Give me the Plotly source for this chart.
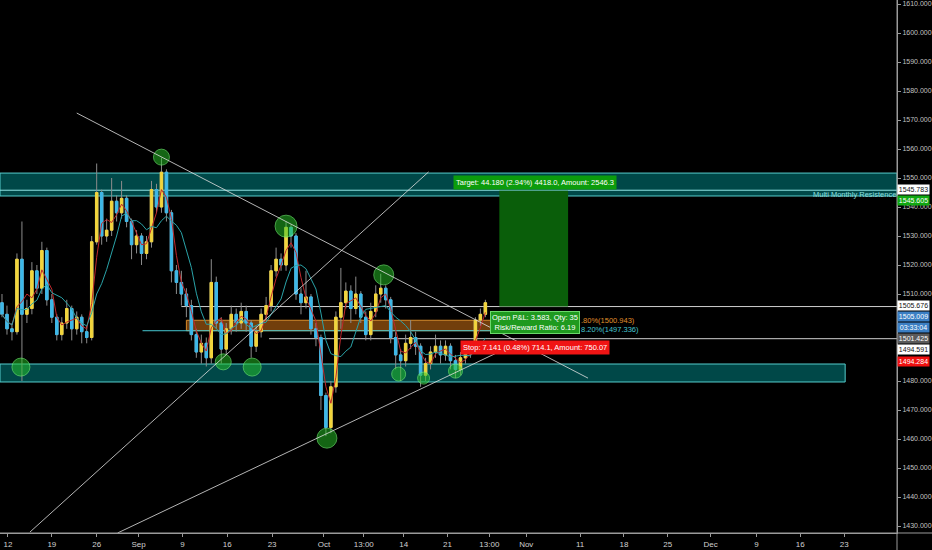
import plotly.graph_objects as go
import pandas as pd

# ---------------- data ----------------
bar_index = list(range(98))
open_ = [1507, 1503, 1498, 1497, 1522, 1503, 1505, 1518, 1512, 1525,
         1508, 1502, 1496, 1500, 1505, 1498, 1502, 1497, 1495, 1528,
         1545, 1530, 1532, 1542, 1538, 1543, 1535, 1527, 1530, 1524,
         1528, 1546, 1540, 1552, 1538, 1518, 1514, 1510, 1506, 1496,
         1490, 1493, 1488, 1514, 1500, 1491, 1498, 1503, 1500, 1504,
         1500, 1492, 1497, 1503, 1506, 1518, 1522, 1520, 1533, 1530,
         1510, 1507, 1509, 1498, 1495, 1475, 1464, 1478, 1502, 1507,
         1511, 1505, 1510, 1502, 1496, 1504, 1510, 1512, 1508, 1495,
         1489, 1487, 1493, 1495, 1492, 1482, 1486, 1490, 1492, 1489,
         1492, 1487, 1484, 1488, 1490, 1491, 1501, 1503]
high = [1510, 1506, 1500, 1524, 1535, 1508, 1521, 1520, 1528, 1526,
        1510, 1503, 1502, 1508, 1506, 1504, 1503, 1499, 1530, 1555,
        1546, 1536, 1550, 1544, 1549, 1544, 1536, 1532, 1531, 1530,
        1549, 1548, 1557, 1553, 1539, 1520, 1518, 1512, 1508, 1498,
        1496, 1495, 1522, 1516, 1502, 1500, 1506, 1505, 1507, 1506,
        1501, 1499, 1505, 1509, 1520, 1526, 1524, 1535, 1534, 1531,
        1512, 1518, 1510, 1500, 1496, 1476, 1480, 1504, 1519, 1514,
        1513, 1516, 1511, 1504, 1507, 1513, 1517, 1513, 1509, 1497,
        1491, 1496, 1501, 1497, 1493, 1488, 1492, 1496, 1494, 1494,
        1493, 1489, 1490, 1492, 1493, 1502, 1505, 1508]
low = [1502, 1496, 1494, 1496, 1480, 1500, 1503, 1510, 1510, 1506,
       1500, 1494, 1494, 1498, 1494, 1496, 1493, 1493, 1494, 1527,
       1527, 1528, 1530, 1535, 1536, 1533, 1522, 1524, 1520, 1522,
       1526, 1538, 1538, 1535, 1514, 1510, 1506, 1502, 1494, 1488,
       1486, 1485, 1486, 1498, 1486, 1489, 1496, 1497, 1498, 1497,
       1488, 1490, 1495, 1501, 1504, 1516, 1518, 1518, 1526, 1508,
       1503, 1505, 1496, 1492, 1470, 1461, 1462, 1476, 1498, 1505,
       1500, 1503, 1500, 1494, 1494, 1502, 1507, 1505, 1493, 1484,
       1480, 1485, 1491, 1489, 1478, 1480, 1484, 1488, 1486, 1487,
       1484, 1481, 1482, 1486, 1488, 1490, 1499, 1502]
close = [1503, 1498, 1497, 1522, 1503, 1505, 1518, 1512, 1525, 1508,
         1502, 1496, 1500, 1505, 1498, 1502, 1497, 1495, 1528, 1545,
         1530, 1532, 1542, 1538, 1543, 1535, 1527, 1530, 1524, 1528,
         1546, 1540, 1552, 1538, 1518, 1514, 1510, 1506, 1496, 1490,
         1493, 1488, 1514, 1500, 1491, 1498, 1503, 1500, 1504, 1500,
         1492, 1497, 1503, 1506, 1518, 1522, 1520, 1533, 1530, 1510,
         1507, 1509, 1498, 1495, 1475, 1464, 1478, 1502, 1507, 1511,
         1505, 1510, 1502, 1496, 1504, 1510, 1512, 1508, 1495, 1489,
         1487, 1493, 1495, 1492, 1482, 1486, 1490, 1492, 1489, 1492,
         1487, 1484, 1488, 1490, 1491, 1501, 1503, 1507]

tick_pos = [1.2, 10, 19, 27.4, 36.2, 45.2, 54.2, 64.6, 72.6, 80.6, 89.4,
            97.8, 105.2, 116, 124.8, 133.6, 142.2, 151.4, 160.2, 169]
tick_text = ["12", "19", "26", "Sep", "9", "16", "23", "Oct", "13:00", "14", "21",
             "13:00", "Nov", "11", "18", "25", "Dec", "9", "16", "23"]
price_ticks = [1430, 1440, 1450, 1460, 1470, 1480, 1510, 1520, 1530, 1540,
               1550, 1560, 1570, 1580, 1590, 1600, 1610]

resistance_zone = [1543.8, 1551.7]
resistance_line = 1545.783
support_zone = [1479.66, 1485.86]
entry_zone = [1497.336, 1500.943]
target_price = 1545.605
last_price_line = 1505.676
low_price_line = 1494.591

# trend lines: (x0, p0, x1, p1)
trend_lines = [
    (15.0, 1572.4, 117.6, 1481.0),
    (5.6, 1427.9, 85.6, 1552.1),
    (23.2, 1427.6, 102.6, 1492.4),
]

# pivot circles
pivot_x = [3.8, 32.0, 44.4, 50.2, 57.0, 65.2, 76.6, 79.6, 84.6, 91.0]
pivot_y = [1484.8, 1557.2, 1486.6, 1484.8, 1533.4, 1460.3, 1516.6, 1482.4, 1481.0, 1483.4]
pivot_size = [18, 16, 16, 18, 22, 20, 20, 14, 12, 14]

# price-scale labels: (text, price position, background, font colour)
axis_labels = [
    ("1545.783", 1546.2, "#ffffff", "#111111"),
    ("1545.605", 1542.4, "#10a810", "#ffffff"),
    ("1505.676", 1506.2, "#ffffff", "#111111"),
    ("1505.009", 1502.1, "#3b7fc4", "#ffffff"),
    ("03:33:04", 1498.3, "#3b7fc4", "#ffffff"),
    ("1501.425", 1494.5, "#5a5a5a", "#ffffff"),
    ("1494.591", 1490.7, "#ffffff", "#111111"),
    ("1494.284", 1486.9, "#f01010", "#ffffff"),
]

# ---------------- figure ----------------
XR = [-0.4, 179.6]
YR = [1427.59, 1611.38]
FONT = "Liberation Sans Narrow, Arial Narrow, Liberation Sans, Arial, sans-serif"

s = pd.Series(close, dtype=float)
ma_fast = s.rolling(3, min_periods=1).mean()
ma_slow = s.rolling(7, min_periods=1).mean()
body_hi = [max(o, c) for o, c in zip(open_, close)]
body_lo = [min(o, c) for o, c in zip(open_, close)]

fig = go.Figure()

fig.add_trace(go.Candlestick(
    x=bar_index, open=open_, high=high, low=low, close=close,
    increasing=dict(line=dict(color="#8c8c8c", width=1), fillcolor="#8c8c8c"),
    decreasing=dict(line=dict(color="#8c8c8c", width=1), fillcolor="#8c8c8c"),
    whiskerwidth=0, hoverinfo="skip"))
fig.add_trace(go.Candlestick(
    x=bar_index, open=open_, high=body_hi, low=body_lo, close=close,
    increasing=dict(line=dict(color="#f2d53c", width=1), fillcolor="#f2d53c"),
    decreasing=dict(line=dict(color="#3db8e8", width=1), fillcolor="#3db8e8"),
    whiskerwidth=0, hoverinfo="skip"))

fig.add_trace(go.Scatter(x=bar_index, y=ma_fast, mode="lines",
                         line=dict(color="#c0282d", width=1), hoverinfo="skip"))
fig.add_trace(go.Scatter(x=bar_index, y=ma_slow, mode="lines",
                         line=dict(color="#2aa3a8", width=1), hoverinfo="skip"))

fig.add_trace(go.Scatter(x=pivot_x, y=pivot_y, mode="markers",
                         marker=dict(size=pivot_size, color="rgba(40,200,40,0.72)",
                                     line=dict(color="rgba(110,240,110,0.9)", width=1)),
                         hoverinfo="skip"))

shapes = []
shapes.append(dict(type="rect", xref="x", yref="y", x0=XR[0], x1=XR[1],
                   y0=resistance_zone[0], y1=resistance_zone[1],
                   fillcolor="rgba(0,120,120,0.6)", line=dict(color="#55cccc", width=1),
                   layer="below"))
shapes.append(dict(type="line", xref="x", yref="y", x0=XR[0], x1=XR[1],
                   y0=resistance_line, y1=resistance_line,
                   line=dict(color="#8fe3e3", width=1), layer="below"))
shapes.append(dict(type="rect", xref="x", yref="y", x0=XR[0], x1=169.2,
                   y0=support_zone[0], y1=support_zone[1],
                   fillcolor="rgba(0,120,120,0.6)", line=dict(color="#55cccc", width=1),
                   layer="below"))
shapes.append(dict(type="rect", xref="x", yref="y", x0=37, x1=99.6,
                   y0=entry_zone[0], y1=entry_zone[1],
                   fillcolor="rgba(190,105,20,0.6)", line=dict(color="#d68a2c", width=1),
                   layer="below"))
shapes.append(dict(type="line", xref="x", yref="y", x0=28.2, x1=99.6,
                   y0=entry_zone[0], y1=entry_zone[0],
                   line=dict(color="#46c6d0", width=1), layer="below"))
shapes.append(dict(type="line", xref="x", yref="y", x0=36, x1=XR[1],
                   y0=last_price_line, y1=last_price_line,
                   line=dict(color="#d0d0d0", width=1), layer="below"))
shapes.append(dict(type="line", xref="x", yref="y", x0=53.6, x1=XR[1],
                   y0=low_price_line, y1=low_price_line,
                   line=dict(color="#d0d0d0", width=1), layer="below"))
shapes.append(dict(type="rect", xref="x", yref="y", x0=99.8, x1=113.6,
                   y0=last_price_line, y1=target_price,
                   fillcolor="#0a5e0a", line=dict(width=0), layer="below"))
for x0, p0, x1, p1 in trend_lines:
    shapes.append(dict(type="line", xref="x", yref="y", x0=x0, y0=p0, x1=x1, y1=p1,
                       line=dict(color="rgba(225,225,225,0.8)", width=1), layer="above"))
shapes.append(dict(type="line", xref="paper", yref="paper", x0=0, x1=1.04, y0=0, y1=0,
                   line=dict(color="#9a9a9a", width=1)))
shapes.append(dict(type="line", xref="paper", yref="paper", x0=1, x1=1, y0=-0.04, y1=1,
                   line=dict(color="#9a9a9a", width=1)))

ann = []
ann.append(dict(x=116.2, y=1501.0, xref="x", yref="y", text=".80%(1500.943)",
                showarrow=False, xanchor="left", yanchor="middle", xshift=-2,
                font=dict(family=FONT, size=7.5, color="#e0902c")))
ann.append(dict(x=116.2, y=1497.6, xref="x", yref="y", text="8.20%(1497.336)",
                showarrow=False, xanchor="left", yanchor="middle", xshift=-2,
                font=dict(family=FONT, size=7.5, color="#46c6d0")))
ann.append(dict(x=179.2, y=1544.2, xref="x", yref="y", text="Multi Monthly Resistence",
                showarrow=False, xanchor="right", yanchor="middle", xshift=3,
                font=dict(family=FONT, size=7.5, color="#8fe0e0")))
ann.append(dict(x=107, y=1548.3, xref="x", yref="y",
                text="Target: 44.180 (2.94%) 4418.0, Amount: 2546.3",
                showarrow=False, xanchor="center", yanchor="middle", bgcolor="#0c9c0c",
                borderpad=2, font=dict(family=FONT, size=7.5, color="#ffffff")))
ann.append(dict(x=107, y=1500.3, xref="x", yref="y",
                text="Open P&L: 3.583, Qty: 35<br>Risk/Reward Ratio: 6.19",
                showarrow=False, xanchor="center", yanchor="middle", bgcolor="#1f9a1f",
                bordercolor="#6ad86a", borderwidth=1, borderpad=1,
                font=dict(family=FONT, size=7.5, color="#ffffff")))
ann.append(dict(x=107, y=1491.7, xref="x", yref="y",
                text="Stop: 7.141 (0.48%) 714.1, Amount: 750.07",
                showarrow=False, xanchor="center", yanchor="middle", bgcolor="#f01414",
                borderpad=2, font=dict(family=FONT, size=7.5, color="#ffffff")))
for txt, pos, bg, fc in axis_labels:
    ann.append(dict(x=1, y=pos, xref="paper", yref="y", text=txt, showarrow=False,
                    xanchor="left", yanchor="middle", bgcolor=bg, width=31, height=9,
                    borderpad=0, align="center",
                    font=dict(family="Liberation Sans, Arial, sans-serif", size=7, color=fc)))

fig.update_layout(
    width=932, height=550,
    margin=dict(l=0, r=32, t=0, b=17),
    paper_bgcolor="#000000", plot_bgcolor="#000000",
    showlegend=False, shapes=shapes, annotations=ann,
    xaxis=dict(range=XR, rangeslider=dict(visible=False), showgrid=False, zeroline=False,
               showline=True, linecolor="#9a9a9a", ticks="outside", ticklen=3,
               tickcolor="#9a9a9a", tickvals=tick_pos, ticktext=tick_text,
               tickfont=dict(family="Liberation Sans, Arial, sans-serif", size=8, color="#d0d0d0")),
    yaxis=dict(range=YR, side="right", showgrid=False, zeroline=False, showline=True,
               linecolor="#9a9a9a", ticks="outside", ticklen=3, tickcolor="#9a9a9a",
               tickvals=price_ticks, tickformat=".3f",
               tickfont=dict(family="Liberation Sans, Arial, sans-serif", size=7, color="#c0c0c0")),
)

fig.write_html("out.html", config={"displayModeBar": False},
               post_script="document.body.style.margin='0';document.body.style.background='#000';"
                           "document.body.style.overflow='hidden';")
